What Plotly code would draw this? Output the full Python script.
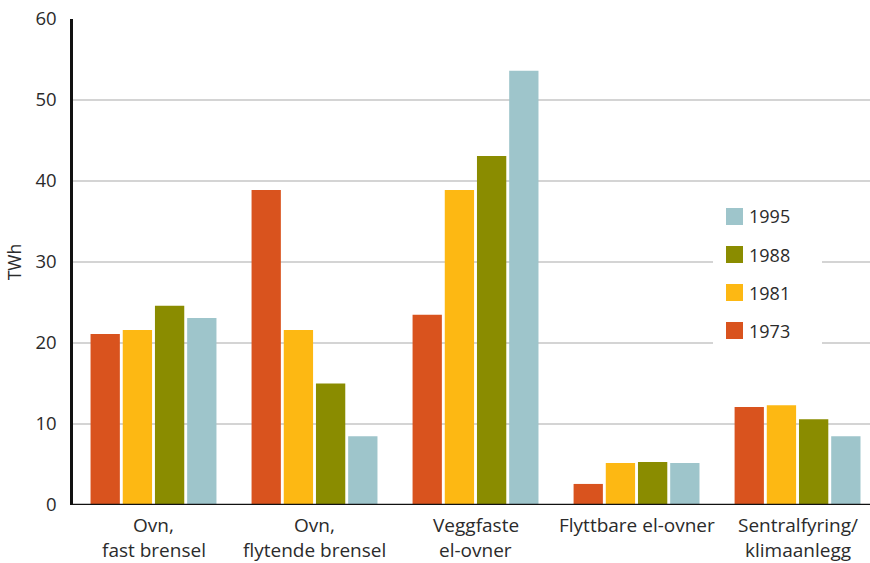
import plotly.graph_objects as go

# Energy use for space heating by heating type, per year
categories = ["Ovn,<br>fast brensel", "Ovn,<br>flytende brensel", "Veggfaste<br>el-ovner",
              "Flyttbare el-ovner", "Sentralfyring/<br>klimaanlegg"]
years = ["1973", "1981", "1988", "1995"]
values = {
    "1973": [21.1, 38.9, 23.5, 2.6, 12.1],
    "1981": [21.6, 21.6, 38.9, 5.2, 12.3],
    "1988": [24.6, 15.0, 43.1, 5.3, 10.6],
    "1995": [23.1, 8.5, 53.6, 5.2, 8.5],
}
colors = {"1973": "#D9531E", "1981": "#FDB813", "1988": "#8A8C00", "1995": "#9EC5CB"}
y_ticks = [0, 10, 20, 30, 40, 50, 60]

FONT = "Open Sans"
TXT = "#2B2B2B"

fig = go.Figure()
for yr in years:
    fig.add_trace(go.Bar(x=list(range(len(categories))), y=values[yr], name=yr,
                         marker=dict(color=colors[yr], line=dict(width=0)),
                         showlegend=False))

W, H = 870, 563
ml, mr, mt, mb = 73, 0, 19, 58

fig.update_layout(
    width=W, height=H,
    margin=dict(l=ml, r=mr, t=mt, b=mb),
    paper_bgcolor="white", plot_bgcolor="white",
    barmode="group", bargap=0.2, bargroupgap=0.09,
    font=dict(family=FONT, size=17, color=TXT),
    xaxis=dict(range=[-0.5, 4.45], showticklabels=False, ticks="",
               showgrid=False, zeroline=False, showline=False, fixedrange=True),
    yaxis=dict(range=[0, 60], tickvals=y_ticks, showgrid=True, gridcolor="#D4D4D4",
               gridwidth=2, zeroline=False, showline=True, linecolor="#111111",
               linewidth=2.5, ticks="", ticklabelstandoff=10,
               tickfont=dict(family=FONT, size=18.5, color=TXT),
               title=dict(text="TWh", font=dict(family=FONT, size=17.5, color=TXT), standoff=10)),
)

# baseline
fig.add_shape(type="line", xref="paper", yref="y", x0=0, x1=1, y0=0, y1=0,
              line=dict(color="#111111", width=2.5))

plot_h = H - mt - mb
plot_w = W - ml - mr

# category labels, one annotation per line
for i, cat in enumerate(categories):
    for j, line in enumerate(cat.split("<br>")):
        fig.add_annotation(x=i, xref="x", y=(-20 - 24.5 * j) / plot_h, yref="y domain",
                           yanchor="middle", text=line, showarrow=False, xanchor="center",
                           font=dict(family=FONT, size=19, color=TXT))

# legend block (newest year on top) with white background
fig.add_shape(type="rect", xref="paper", yref="paper",
              x0=(713 - ml) / plot_w, x1=(822 - ml) / plot_w,
              y0=(H - mb - 348) / plot_h, y1=(H - mb - 198) / plot_h,
              fillcolor="white", line=dict(width=0), layer="above")
for k, yr in enumerate(reversed(years)):
    cy = 216.5 + 38 * k
    fig.add_shape(type="rect", xref="paper", yref="paper",
                  x0=(726 - ml) / plot_w, x1=(743 - ml) / plot_w,
                  y0=(H - mb - (cy + 8.5)) / plot_h, y1=(H - mb - (cy - 8.5)) / plot_h,
                  fillcolor=colors[yr], line=dict(width=0), layer="above")
    fig.add_annotation(x=(747 - ml) / plot_w, xref="paper", y=(H - mb - cy) / plot_h,
                       yref="paper", text=yr, showarrow=False, xanchor="left",
                       yanchor="middle", font=dict(family=FONT, size=18, color=TXT))

fig.write_html("out.html")
